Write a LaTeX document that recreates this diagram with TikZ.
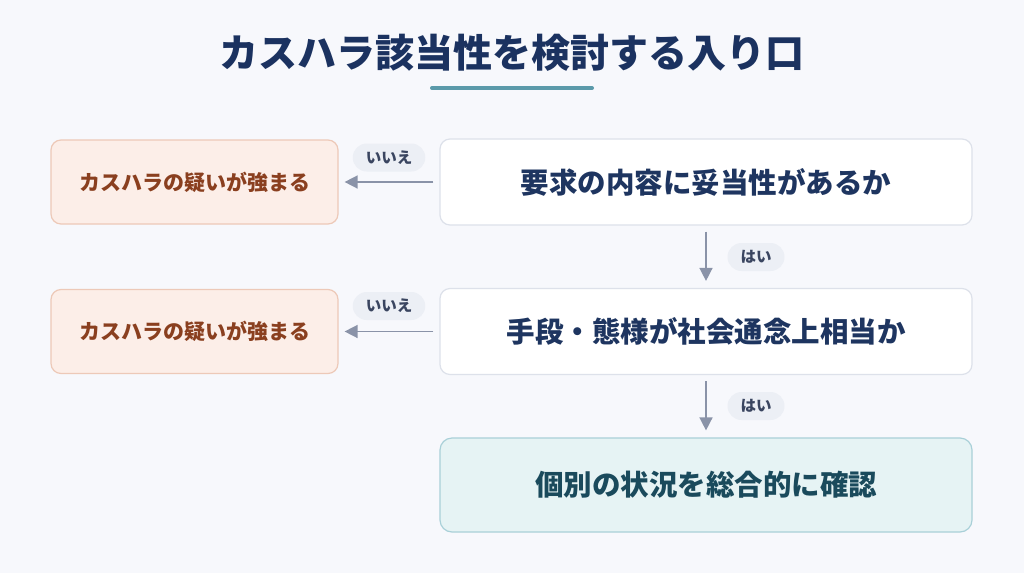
\documentclass[tikz,border=0pt]{standalone}
\usepackage{fontspec}
\setmainfont{Noto Sans CJK JP}
\newfontfamily\jp{Noto Sans CJK JP}
\usetikzlibrary{arrows.meta}
\definecolor{bgc}{HTML}{F7F8FC}
\definecolor{titlec}{HTML}{1B3260}
\definecolor{linec}{HTML}{5B9AAA}
\definecolor{warnfill}{HTML}{FCEEE8}
\definecolor{warndraw}{HTML}{EDC9B8}
\definecolor{warntext}{HTML}{8A3F1F}
\definecolor{qdraw}{HTML}{DDE1EA}
\definecolor{qtext}{HTML}{1E3560}
\definecolor{okfill}{HTML}{E6F3F4}
\definecolor{okdraw}{HTML}{A9D0D8}
\definecolor{oktext}{HTML}{1A4A5C}
\definecolor{arrc}{HTML}{8A93A8}
\definecolor{pillc}{HTML}{ECEFF5}
\definecolor{pilltext}{HTML}{3A4560}
\tikzset{
  warnbox/.style={draw=warndraw, fill=warnfill, line width=1.2pt, rounded corners=10pt,
    minimum width=287pt, minimum height=84pt, inner sep=0pt, text=warntext,
    font=\jp\bfseries\fontsize{21}{25}\selectfont},
  qbox/.style={draw=qdraw, fill=white, line width=1.2pt, rounded corners=10pt,
    minimum width=532pt, minimum height=86pt, inner sep=0pt, text=qtext,
    font=\jp\bfseries\fontsize{28.5}{33}\selectfont},
  okbox/.style={draw=okdraw, fill=okfill, line width=1.2pt, rounded corners=12pt,
    minimum width=532pt, minimum height=94pt, inner sep=0pt, text=oktext,
    font=\jp\bfseries\fontsize{28.5}{33}\selectfont},
  pill/.style={fill=pillc, rounded corners=14pt, minimum height=28pt, inner xsep=13pt,
    inner ysep=0pt, text=pilltext, font=\jp\bfseries\fontsize{15.5}{18}\selectfont},
  conn/.style={draw=arrc, line width=1.5pt, -{Triangle[length=13pt,width=13pt]}}
}
\begin{document}
\begin{tikzpicture}[x=1pt,y=-1pt]
\fill[bgc] (0,0) rectangle (1024,573);
\useasboundingbox (0,0) rectangle (1024,573);
\node[text=titlec, font=\jp\bfseries\fontsize{39}{45}\selectfont] (title) at (512,53) {カスハラ該当性を検討する入り口};
\draw[linec, line width=4pt, line cap=round] (432,88) -- (592,88);

\node[qbox] (q1) at (706,182) {要求の内容に妥当性があるか};
\node[qbox] (q2) at (706,331.5) {手段・態様が社会通念上相当か};
\node[okbox] (ok) at (706,485) {個別の状況を総合的に確認};
\node[warnbox] (w1) at (194.5,182) {カスハラの疑いが強まる};
\node[warnbox] (w2) at (194.5,331.5) {カスハラの疑いが強まる};

\draw[conn] ([xshift=-6pt]q1.west) -- ([xshift=6pt]w1.east);
\draw[conn] ([xshift=-6pt]q2.west) -- ([xshift=6pt]w2.east);
\draw[conn] ([yshift=-6pt]q1.south) -- ([yshift=7pt]q2.north);
\draw[conn] ([yshift=-6pt]q2.south) -- ([yshift=7pt]ok.north);

\node[pill] (n1) at (389,157.5) {いいえ};
\node[pill] (n2) at (389,306) {いいえ};
\node[pill] (y1) at (756,257) {はい};
\node[pill] (y2) at (756,406) {はい};
\end{tikzpicture}
\end{document}
